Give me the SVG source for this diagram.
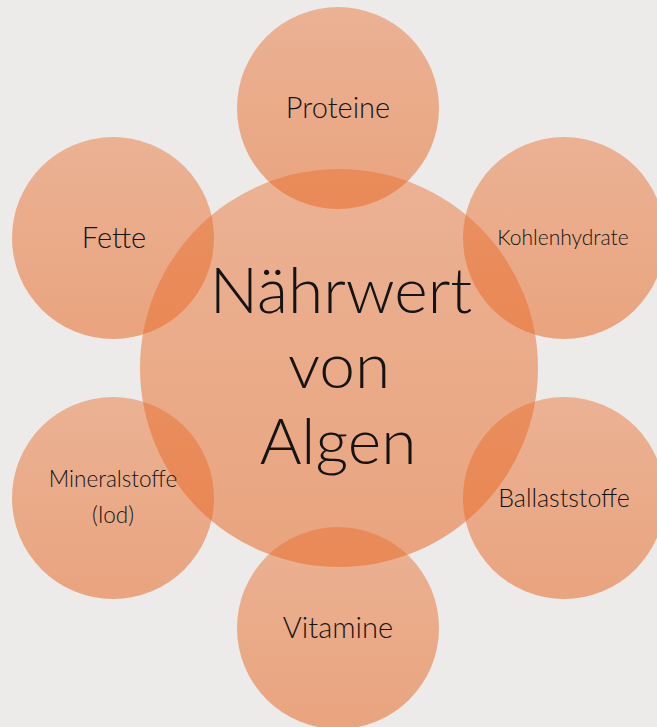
<svg xmlns="http://www.w3.org/2000/svg" width="657" height="727" viewBox="0 0 657 727">
<defs>
<linearGradient id="g" x1="0" y1="0" x2="0" y2="1">
<stop offset="0" stop-color="#e86c2a" stop-opacity="0.45"/>
<stop offset="1" stop-color="#e86c2a" stop-opacity="0.56"/>
</linearGradient>
<style>
.c{fill:url(#g);}
.t{font-family:Lato,"Open Sans","Liberation Sans",sans-serif;font-weight:300;fill:#141414;text-anchor:middle;}
</style>
</defs>
<rect width="657" height="727" fill="#ecebea"/>
<g id="center"><circle class="c" cx="339" cy="368" r="199"/>
<text class="t" x="341" y="313" font-size="64">Nährwert</text>
<text class="t" x="339" y="388" font-size="64">von</text>
<text class="t" x="338" y="464" font-size="64">Algen</text></g>
<g id="proteine"><circle class="c" cx="338" cy="108" r="101"/><text class="t" x="338" y="118" font-size="29">Proteine</text></g>
<g id="kohlenhydrate"><circle class="c" cx="564" cy="238" r="101"/><text class="t" x="563" y="245" font-size="21">Kohlenhydrate</text></g>
<g id="ballaststoffe"><circle class="c" cx="564" cy="498" r="101"/><text class="t" x="564" y="507" font-size="25">Ballaststoffe</text></g>
<g id="vitamine"><circle class="c" cx="338" cy="628" r="101"/><text class="t" x="338" y="638" font-size="29">Vitamine</text></g>
<g id="mineralstoffe"><circle class="c" cx="113" cy="498" r="101"/><text class="t" x="113" y="487" font-size="22.5">Mineralstoffe</text><text class="t" x="113" y="523" font-size="22.5">(Iod)</text></g>
<g id="fette"><circle class="c" cx="113" cy="238" r="101"/><text class="t" x="114" y="248" font-size="29">Fette</text></g>
<g id="connectors"/>
</svg>
